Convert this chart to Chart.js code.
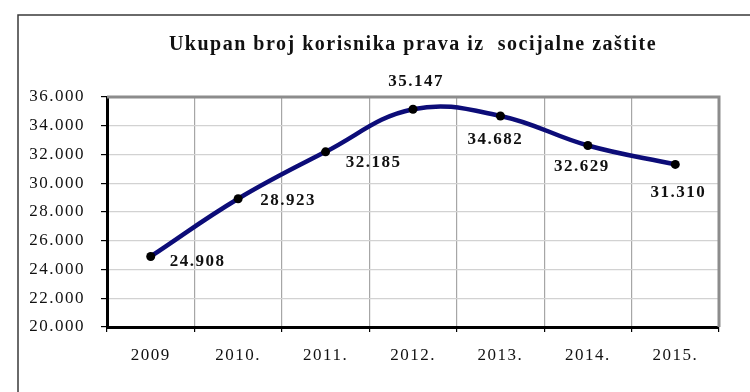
<!DOCTYPE html>
<html>
<head>
<meta charset="utf-8">
<script src="https://cdn.jsdelivr.net/npm/chart.js@4/dist/chart.umd.min.js"></script>
<style>
  html, body { margin: 0; padding: 0; background: #fff; }
  #wrap { width: 750px; height: 392px; }
</style>
</head>
<body>
<div id="wrap"><canvas id="c" width="750" height="392"></canvas></div>
<script>
// data
const years = ['2009', '2010.', '2011.', '2012.', '2013.', '2014.', '2015.'];
const korisnici = [24908, 28923, 32185, 35147, 34682, 32629, 31310];
const yTicks = [20000, 22000, 24000, 26000, 28000, 30000, 32000, 34000, 36000];

const serif = "'Liberation Serif', 'Times New Roman', serif";

// 24908 -> "24.908"
function fmt(v) {
  return Math.floor(v / 1000) + '.' + String(v % 1000).padStart(3, '0');
}

// where each value label sits relative to its point
const labelShift = [[47, 5], [50, 2], [48, 11], [3, -28], [-5, 24], [-6, 21], [3, 28]];

const framePlugin = {
  id: 'frame',
  beforeLayout(chart) {
    chart.ctx.letterSpacing = '1.5px';
  },
  beforeDatasetsDraw(chart) {
    const { ctx, chartArea: a } = chart;
    ctx.save();
    ctx.strokeStyle = '#8c8c8c';
    ctx.lineWidth = 3;
    ctx.beginPath();
    ctx.moveTo(a.left, a.top);
    ctx.lineTo(a.right, a.top);
    ctx.lineTo(a.right, a.bottom);
    ctx.stroke();
    ctx.restore();
  },
  afterDraw(chart) {
    const ctx = chart.ctx;
    // value labels
    const meta = chart.getDatasetMeta(0);
    ctx.save();
    ctx.letterSpacing = '1.5px';
    ctx.font = 'bold 17px ' + serif;
    ctx.fillStyle = '#111';
    ctx.textAlign = 'center';
    ctx.textBaseline = 'middle';
    meta.data.forEach((pt, i) => {
      const s = labelShift[i];
      ctx.fillText(fmt(korisnici[i]), pt.x + s[0], pt.y + s[1]);
    });
    ctx.restore();
    // outer frame (left and top edge only)
    ctx.save();
    ctx.strokeStyle = '#3a3a3a';
    ctx.lineWidth = 1.5;
    ctx.beginPath();
    ctx.moveTo(18, 392);
    ctx.lineTo(18, 15);
    ctx.lineTo(750, 15);
    ctx.stroke();
    ctx.restore();
  }
};

new Chart(document.getElementById('c'), {
  type: 'line',
  data: {
    labels: years,
    datasets: [{
      data: korisnici,
      borderColor: '#0c0c78',
      borderWidth: 4.5,
      tension: 0.4,
      fill: false,
      pointRadius: 4.5,
      pointBackgroundColor: '#000',
      pointBorderColor: '#000',
      pointBorderWidth: 0
    }]
  },
  options: {
    responsive: false,
    animation: false,
    layout: { padding: { left: 0, right: 31, top: 0, bottom: 15 } },
    plugins: {
      legend: { display: false },
      tooltip: { enabled: false },
      title: {
        display: true,
        fullSize: false,
        text: 'Ukupan broj korisnika prava iz  socijalne zaštite',
        color: '#111',
        font: { family: serif, size: 20, weight: 'bold' },
        padding: { top: 33, bottom: 40 }
      }
    },
    scales: {
      x: {
        offset: true,
        grid: { offset: true, color: '#a6a6a6', lineWidth: 1.2, tickColor: '#000', tickLength: 5 },
        border: { color: '#000', width: 3 },
        ticks: { color: '#111', padding: 13, font: { family: serif, size: 17 } },
        afterFit(s) { s.height = 50; }
      },
      y: {
        min: 20000,
        max: 36000,
        afterBuildTicks(s) { s.ticks = yTicks.map(v => ({ value: v })); },
        grid: { color: '#d2d2d2', lineWidth: 1.2, tickColor: '#000', tickLength: 6 },
        border: { color: '#000', width: 3 },
        ticks: { color: '#111', padding: 16, font: { family: serif, size: 17 }, callback: v => fmt(v) },
        afterFit(s) { s.width = 107; }
      }
    }
  },
  plugins: [framePlugin]
});
</script>
</body>
</html>
